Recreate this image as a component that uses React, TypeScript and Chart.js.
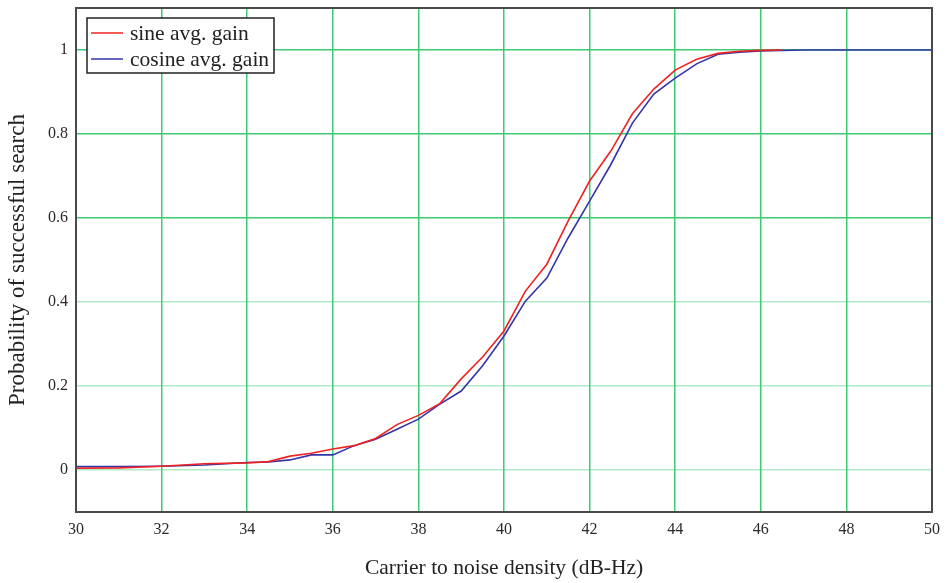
import React, { useEffect, useRef } from "react";
import { Chart, registerables } from "chart.js";

Chart.register(...registerables);

const sineX = [30, 31, 32, 33, 34, 34.5, 35, 35.5, 36, 36.5, 37, 37.5, 38, 38.5, 39, 39.5, 40, 40.5, 41, 41.5, 42, 42.5, 43, 43.5, 44, 44.5, 45, 45.5, 46, 46.5];
const sineY = [0.004, 0.005, 0.009, 0.015, 0.017, 0.02, 0.033, 0.04, 0.05, 0.058, 0.075, 0.108, 0.13, 0.158, 0.217, 0.269, 0.331, 0.426, 0.49, 0.593, 0.688, 0.76, 0.848, 0.907, 0.952, 0.978, 0.992, 0.997, 0.999, 1.0];
const cosineX = [30, 31, 32, 33, 34, 34.5, 35, 35.5, 36, 36.5, 37, 37.5, 38, 38.5, 39, 39.5, 40, 40.5, 41, 41.5, 42, 42.5, 43, 43.5, 44, 44.5, 45, 45.5, 46, 47, 50];
const cosineY = [0.008, 0.008, 0.009, 0.012, 0.018, 0.019, 0.024, 0.036, 0.036, 0.058, 0.073, 0.097, 0.121, 0.157, 0.188, 0.248, 0.319, 0.402, 0.457, 0.553, 0.64, 0.728, 0.826, 0.895, 0.933, 0.967, 0.99, 0.995, 0.998, 1.0, 1.0];
const xTicks = [30, 32, 34, 36, 38, 40, 42, 44, 46, 48, 50];
const yTicks = [0, 0.2, 0.4, 0.6, 0.8, 1];
const seriesLabels = ["sine avg. gain", "cosine avg. gain"];

const FONT = "'Liberation Serif', 'DejaVu Serif', serif";

const framePlugin = {
  id: "frameAndLegend",
  afterDatasetsDraw(chart: any) {
    const { ctx, chartArea } = chart;
    ctx.save();
    ctx.strokeStyle = "#4a4a4a";
    ctx.lineWidth = 2;
    ctx.strokeRect(chartArea.left, chartArea.top, chartArea.right - chartArea.left, chartArea.bottom - chartArea.top);
    // legend box
    const bx = chartArea.left + 11;
    const by = chartArea.top + 10;
    const bw = 187;
    const bh = 55;
    ctx.fillStyle = "#ffffff";
    ctx.fillRect(bx, by, bw, bh);
    ctx.strokeStyle = "#222222";
    ctx.lineWidth = 1.5;
    ctx.strokeRect(bx, by, bw, bh);
    ctx.font = "21.5px " + FONT;
    ctx.textBaseline = "middle";
    chart.data.datasets.forEach((ds: any, i: number) => {
      const y = by + 15 + i * 26;
      ctx.strokeStyle = ds.borderColor;
      ctx.lineWidth = 1.5;
      ctx.beginPath();
      ctx.moveTo(bx + 4, y);
      ctx.lineTo(bx + 36, y);
      ctx.stroke();
      ctx.fillStyle = "#222222";
      ctx.fillText(ds.label, bx + 43, y + 1);
    });
    ctx.restore();
  },
};

export default function App() {
  const ref = useRef<HTMLCanvasElement | null>(null);
  useEffect(() => {
    if (!ref.current) return;
    const chart = new Chart(ref.current, {
      type: "line",
      data: {
        datasets: [
          {
            label: seriesLabels[0],
            data: sineX.map((x, i) => ({ x, y: sineY[i] })),
            borderColor: "#ee2222",
            borderWidth: 1.6,
            pointRadius: 0,
            tension: 0,
            fill: false,
          },
          {
            label: seriesLabels[1],
            data: cosineX.map((x, i) => ({ x, y: cosineY[i] })),
            borderColor: "#3535a8",
            borderWidth: 1.6,
            pointRadius: 0,
            tension: 0,
            fill: false,
          },
        ],
      },
      options: {
        animation: false,
        responsive: false,
        maintainAspectRatio: false,
        layout: { padding: { left: 0, top: 8, right: 15, bottom: 0 } },
        plugins: { legend: { display: false }, tooltip: { enabled: false } },
        scales: {
          x: {
            type: "linear",
            min: 30,
            max: 50,
            afterBuildTicks: (axis: any) => {
              axis.ticks = xTicks.map((v) => ({ value: v }));
            },
            afterFit: (axis: any) => {
              axis.height = 71;
              axis.paddingLeft = 0;
              axis.paddingRight = 0;
            },
            grid: { color: "#3ccb72", lineWidth: 1.5, drawTicks: false },
            border: { display: false },
            ticks: {
              padding: 8,
              color: "#2a2a2a",
              font: { family: FONT, size: 16 },
              maxRotation: 0,
              autoSkip: false,
            },
            title: {
              display: true,
              text: "Carrier to noise density (dB-Hz)",
              color: "#222222",
              font: { family: FONT, size: 21.5 },
              padding: { top: 0, bottom: 2 },
            },
          },
          y: {
            type: "linear",
            min: -0.1,
            max: 1.1,
            afterBuildTicks: (axis: any) => {
              axis.ticks = yTicks.map((v) => ({ value: v }));
            },
            afterFit: (axis: any) => {
              axis.width = 76;
              axis.paddingTop = 0;
              axis.paddingBottom = 0;
            },
            grid: {
              color: (c: any) => (c.tick && c.tick.value <= 0.41 ? "rgba(60,203,114,0.4)" : "#3ccb72"),
              lineWidth: 1.5,
              drawTicks: false,
            },
            border: { display: false },
            ticks: {
              padding: 8,
              color: "#2a2a2a",
              font: { family: FONT, size: 16 },
              callback: (v: any) => String(Math.round(Number(v) * 10) / 10),
            },
            title: {
              display: true,
              text: "Probability of successful search",
              color: "#222222",
              font: { family: FONT, size: 23 },
              padding: 4,
            },
          },
        },
      },
      plugins: [framePlugin],
    });
    return () => chart.destroy();
  }, []);
  return (
    <div style={{ position: "fixed", left: 0, top: 0, width: 947, height: 583, background: "#ffffff" }}>
      <canvas ref={ref} width={947} height={583} style={{ display: "block" }} />
    </div>
  );
}
